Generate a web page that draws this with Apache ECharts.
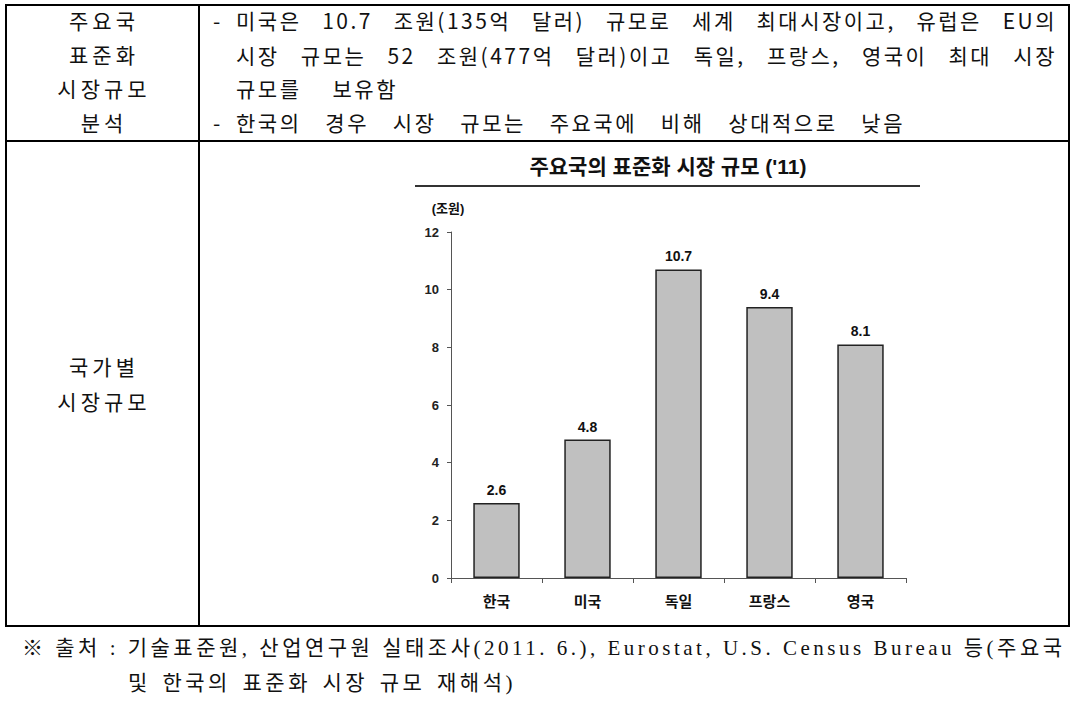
<!DOCTYPE html>
<html><head><meta charset="utf-8">
<script src="https://cdn.jsdelivr.net/npm/echarts@6/dist/echarts.min.js"></script>
<style>
html,body{margin:0;padding:0;background:#fff;width:1078px;height:701px;overflow:hidden;}
#chart{position:absolute;left:0;top:0;width:1078px;height:701px;}
.ln{position:absolute;background:#000;}
.t{position:absolute;font-family:"Noto Sans CJK KR","Liberation Sans",sans-serif;font-size:21px;color:#111;white-space:nowrap;line-height:26px;}
.c{text-align:center;letter-spacing:4px;}
.j{text-align:justify;text-align-last:justify;letter-spacing:2.5px;}
.f{position:absolute;font-family:"Liberation Serif","Noto Sans CJK KR",serif;font-size:21px;color:#111;white-space:nowrap;line-height:24px;text-align:justify;text-align-last:justify;letter-spacing:3.5px;}
</style></head>
<body>
<div id="chart"></div>
<!-- table lines -->
<div class="ln" style="left:5px;top:4px;width:1065px;height:2px;"></div>
<div class="ln" style="left:5px;top:140px;width:1065px;height:2px;"></div>
<div class="ln" style="left:5px;top:625px;width:1065px;height:2px;"></div>
<div class="ln" style="left:5px;top:4px;width:2px;height:623px;"></div>
<div class="ln" style="left:198px;top:4px;width:2px;height:623px;"></div>
<div class="ln" style="left:1068px;top:4px;width:2px;height:623px;"></div>
<!-- left column -->
<div class="t c" style="left:7px;width:194px;top:7px;">주요국</div>
<div class="t c" style="left:7px;width:194px;top:41px;">표준화</div>
<div class="t c" style="left:7px;width:194px;top:75px;">시장규모</div>
<div class="t c" style="left:7px;width:194px;top:109px;">분석</div>
<div class="t c" style="left:7px;width:194px;top:353px;">국가별</div>
<div class="t c" style="left:7px;width:194px;top:388px;">시장규모</div>
<!-- right column -->
<div class="t" style="left:213px;top:7px;">-</div>
<div class="t j" style="left:236px;width:821px;top:7px;">미국은 10.7 조원(135억 달러) 규모로 세계 최대시장이고, 유럽은 EU의</div>
<div class="t j" style="left:236px;width:821px;top:42px;">시장 규모는 52 조원(477억 달러)이고 독일, 프랑스, 영국이 최대 시장</div>
<div class="t j" style="left:236px;width:162px;top:75px;">규모를 보유함</div>
<div class="t" style="left:213px;top:109px;">-</div>
<div class="t j" style="left:236px;width:669px;top:109px;">한국의 경우 시장 규모는 주요국에 비해 상대적으로 낮음</div>
<!-- footer -->
<div class="f" style="left:22px;width:1033px;top:636px;">※ 출처 : 기술표준원, 산업연구원 실태조사(2011. 6.), Eurostat, U.S. Census Bureau 등(주요국</div>
<div class="f" style="left:128px;width:388px;top:671px;">및 한국의 표준화 시장 규모 재해석)</div>
<script>
var categories = ['한국', '미국', '독일', '프랑스', '영국'];
var values = [2.6, 4.8, 10.7, 9.4, 8.1];
var chartTitle = "주요국의 표준화 시장 규모 ('11)";
var unitLabel = '(조원)';

var FONT = '"Liberation Sans","Noto Sans CJK KR",sans-serif';
var chart = echarts.init(document.getElementById('chart'), null, {renderer: 'svg'});
chart.setOption({
  animation: false,
  backgroundColor: 'transparent',
  graphic: [
    {type: 'text', x: 668, y: 166, style: {text: chartTitle, textAlign: 'center', textVerticalAlign: 'middle', font: 'bold 21px ' + FONT, fill: '#111'}},
    {type: 'line', shape: {x1: 415, y1: 186, x2: 920, y2: 186}, style: {stroke: '#333', lineWidth: 2}}
  ],
  grid: {left: 451, right: 172, top: 232, bottom: 123, containLabel: false},
  xAxis: {
    type: 'category', data: categories,
    axisLine: {lineStyle: {color: '#555', width: 1}},
    axisTick: {show: true, length: 5, lineStyle: {color: '#555'}},
    axisLabel: {margin: 16, fontFamily: FONT, fontWeight: 'bold', fontSize: 15, color: '#111'}
  },
  yAxis: {
    type: 'value', min: 0, max: 12, interval: 2,
    name: unitLabel, nameLocation: 'end', nameGap: 17,
    nameTextStyle: {fontFamily: FONT, fontWeight: 'bold', fontSize: 13, color: '#111', align: 'center', padding: [0, 0, 0, -6]},
    axisLine: {show: true, lineStyle: {color: '#555', width: 1}},
    axisTick: {show: true, length: 4, lineStyle: {color: '#555'}},
    splitLine: {show: false},
    axisLabel: {margin: 12, fontFamily: FONT, fontWeight: 'bold', fontSize: 13, color: '#222'}
  },
  series: [{
    type: 'bar', data: values, barCategoryGap: '49%',
    itemStyle: {color: '#c0c0c0', borderColor: '#222', borderWidth: 1.5},
    label: {show: true, position: 'top', distance: 6, fontFamily: FONT, fontWeight: 'bold', fontSize: 14, color: '#111',
      formatter: function (p) { return p.value.toFixed(1); }}
  }]
});
</script>
</body></html>
